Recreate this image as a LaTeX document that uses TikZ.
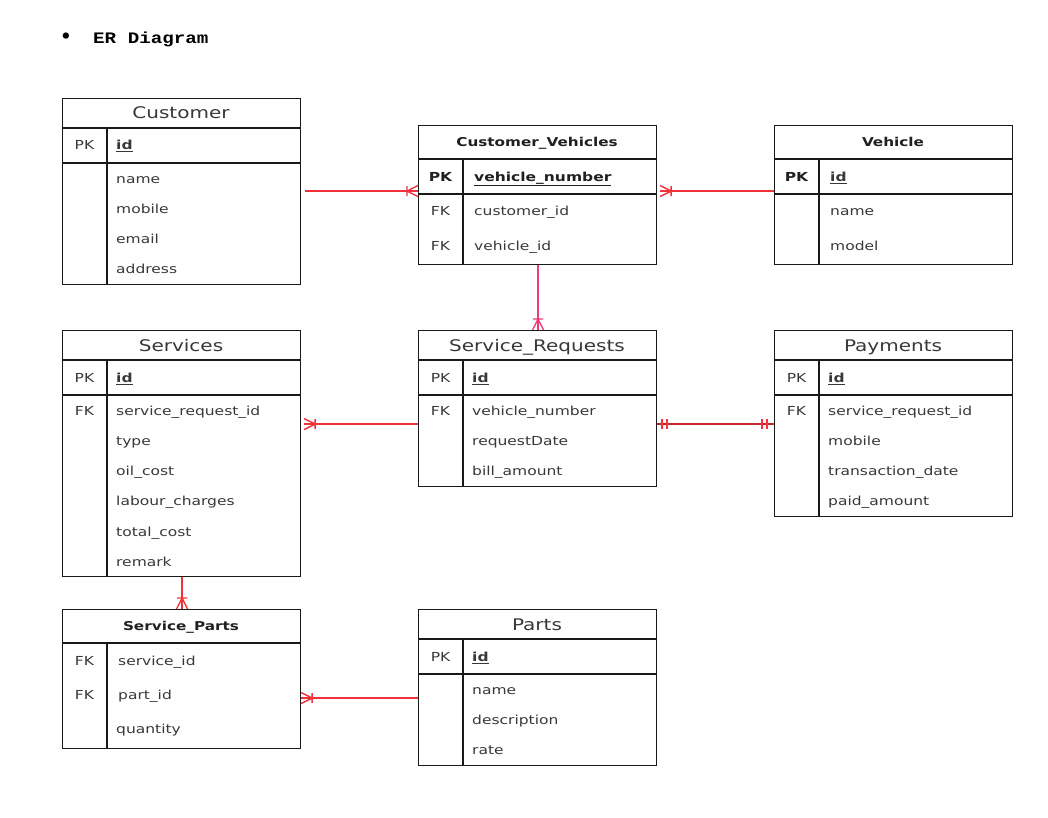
\documentclass[tikz,border=0pt]{standalone}
\usepackage{fontspec}
\newfontfamily\erfont[FakeStretch=1.25]{DejaVu Sans}
\newfontfamily\headfont[FakeStretch=1.2]{Liberation Mono}
\usetikzlibrary{calc}
\definecolor{ink}{HTML}{383838}
\definecolor{hdink}{HTML}{202020}
\definecolor{relred}{HTML}{F2323A}
\definecolor{relpink}{HTML}{F03A78}

\tikzset{
  tbl/.style={draw=black!90, line width=1.1pt, anchor=north west, inner sep=0pt},
  sep/.style={draw=black!90, line width=1.1pt},
  cell/.style={font=\erfont\fontsize{12.4}{14}\selectfont, text=ink, inner sep=0pt,
    anchor=west, text height=10.5pt, text depth=0pt},
  key/.style={cell, anchor=center},
  bcell/.style={cell, font=\erfont\bfseries\fontsize{12.4}{14}\selectfont, text=hdink},
  ttl/.style={font=\erfont\fontsize{16}{18}\selectfont, text=ink, inner sep=0pt,
    text height=13pt, text depth=0pt},
  bttl/.style={font=\erfont\bfseries\fontsize{12.2}{14}\selectfont, text=hdink, inner sep=0pt,
    text height=10pt, text depth=0pt},
  rel/.style={draw=relred, line width=1.4pt},
  many/.pic={\draw[rel] (11pt,0pt) -- (0pt,5.5pt) (11pt,0pt) -- (0pt,-5.5pt)
                        (11pt,5pt) -- (11pt,-5pt);},
  one/.pic={\draw[rel] (5pt,5pt) -- (5pt,-5pt) (10pt,5pt) -- (10pt,-5pt);},
}
\newcommand\pkid{\textbf{\underline{id}}}

\begin{document}
\begin{tikzpicture}[x=1pt,y=-1pt]
\useasboundingbox[fill=white] (0,0) rectangle (1048,817);

% heading
\node[font=\fontsize{28}{28}\selectfont, inner sep=0pt] (bullet) at (66,38.5) {\textbullet};
\node[font=\headfont\bfseries\fontsize{16}{16}\selectfont, anchor=west, inner sep=0pt]
  (heading) at (93,39) {ER Diagram};

% ---------- Customer ----------
\node[tbl, minimum width=238pt, minimum height=186pt] (cust) at (62,98) {};
\draw[sep] (62,128) -- (300,128) (62,163) -- (300,163) (107,128) -- (107,284);
\node[ttl] (cust-t) at (181,112) {Customer};
\node[key] (cust-k) at (84.5,144) {PK};
\node[cell] (cust-id) at (116,144) {\pkid};
\node[cell] (cust-f1) at (116,178) {name};
\node[cell] (cust-f2) at (116,208) {mobile};
\node[cell] (cust-f3) at (116,238) {email};
\node[cell] (cust-f4) at (116,268) {address};

% ---------- Customer_Vehicles ----------
\node[tbl, minimum width=238pt, minimum height=139pt] (cv) at (418,125) {};
\draw[sep] (418,159) -- (656,159) (418,194) -- (656,194) (463,159) -- (463,264);
\node[bttl] (cv-t) at (537,141) {Customer\_Vehicles};
\node[bcell, anchor=center] (cv-k) at (440.5,176) {PK};
\node[bcell] (cv-id) at (474,176) {\underline{vehicle\_number}};
\node[key] (cv-k1) at (440.5,210) {FK};
\node[cell] (cv-f1) at (474,210) {customer\_id};
\node[key] (cv-k2) at (440.5,245) {FK};
\node[cell] (cv-f2) at (474,245) {vehicle\_id};

% ---------- Vehicle ----------
\node[tbl, minimum width=238pt, minimum height=139pt] (veh) at (774,125) {};
\draw[sep] (774,159) -- (1012,159) (774,194) -- (1012,194) (819,159) -- (819,264);
\node[bttl] (veh-t) at (893,141) {Vehicle};
\node[bcell, anchor=center] (veh-k) at (796.5,176) {PK};
\node[cell] (veh-id) at (830,176) {\pkid};
\node[cell] (veh-f1) at (830,210) {name};
\node[cell] (veh-f2) at (830,245) {model};

% ---------- Services ----------
\node[tbl, minimum width=238pt, minimum height=246pt] (sv) at (62,330) {};
\draw[sep] (62,360) -- (300,360) (62,395) -- (300,395) (107,360) -- (107,576);
\node[ttl] (sv-t) at (181,345) {Services};
\node[key] (sv-k) at (84.5,377) {PK};
\node[cell] (sv-id) at (116,377) {\pkid};
\node[key] (sv-k1) at (84.5,410) {FK};
\node[cell] (sv-f1) at (116,410) {service\_request\_id};
\node[cell] (sv-f2) at (116,440) {type};
\node[cell] (sv-f3) at (116,470) {oil\_cost};
\node[cell] (sv-f4) at (116,500) {labour\_charges};
\node[cell] (sv-f5) at (116,531) {total\_cost};
\node[cell] (sv-f6) at (116,561) {remark};

% ---------- Service_Requests ----------
\node[tbl, minimum width=238pt, minimum height=156pt] (sr) at (418,330) {};
\draw[sep] (418,360) -- (656,360) (418,395) -- (656,395) (463,360) -- (463,486);
\node[ttl] (sr-t) at (537,345) {Service\_Requests};
\node[key] (sr-k) at (440.5,377) {PK};
\node[cell] (sr-id) at (472,377) {\pkid};
\node[key] (sr-k1) at (440.5,410) {FK};
\node[cell] (sr-f1) at (472,410) {vehicle\_number};
\node[cell] (sr-f2) at (472,440) {requestDate};
\node[cell] (sr-f3) at (472,470) {bill\_amount};

% ---------- Payments ----------
\node[tbl, minimum width=238pt, minimum height=186pt] (pay) at (774,330) {};
\draw[sep] (774,360) -- (1012,360) (774,395) -- (1012,395) (819,360) -- (819,516);
\node[ttl] (pay-t) at (893,345) {Payments};
\node[key] (pay-k) at (796.5,377) {PK};
\node[cell] (pay-id) at (828,377) {\pkid};
\node[key] (pay-k1) at (796.5,410) {FK};
\node[cell] (pay-f1) at (828,410) {service\_request\_id};
\node[cell] (pay-f2) at (828,440) {mobile};
\node[cell] (pay-f3) at (828,470) {transaction\_date};
\node[cell] (pay-f4) at (828,500) {paid\_amount};

% ---------- Service_Parts ----------
\node[tbl, minimum width=238pt, minimum height=139pt] (sp) at (62,609) {};
\draw[sep] (62,643) -- (300,643) (107,643) -- (107,748);
\node[bttl] (sp-t) at (181,625) {Service\_Parts};
\node[key] (sp-k1) at (84.5,660) {FK};
\node[cell] (sp-f1) at (118,660) {service\_id};
\node[key] (sp-k2) at (84.5,694) {FK};
\node[cell] (sp-f2) at (118,694) {part\_id};
\node[cell] (sp-f3) at (116,728) {quantity};

% ---------- Parts ----------
\node[tbl, minimum width=238pt, minimum height=156pt] (parts) at (418,609) {};
\draw[sep] (418,639) -- (656,639) (418,674) -- (656,674) (463,639) -- (463,765);
\node[ttl] (parts-t) at (537,624) {Parts};
\node[key] (parts-k) at (440.5,656) {PK};
\node[cell] (parts-id) at (472,656) {\pkid};
\node[cell] (parts-f1) at (472,689) {name};
\node[cell] (parts-f2) at (472,719) {description};
\node[cell] (parts-f3) at (472,749) {rate};

% ---------- relationships ----------
% Customer -> Customer_Vehicles
\coordinate (crow) at ([yshift=0.5pt]cust.east);
\draw[rel] ([xshift=4pt]crow) -- (cv.west |- crow);
\path (cv.west |- crow) pic[rotate=180] {many};
% Vehicle -> Customer_Vehicles
\coordinate (cvr) at ([xshift=3pt]cv.east |- crow);
\draw[rel] (veh.west |- crow) -- (cvr);
\path (cvr) pic {many};
% Customer_Vehicles -> Service_Requests
\coordinate (cvs) at ([xshift=0.5pt]cv.south);
\draw[rel, draw=relpink] (cvs) -- (cvs |- sr.north);
\path (cvs |- sr.north) pic[rotate=90, rel/.append style={draw=relpink}] {many};
% Service_Requests -> Services
\coordinate (srrow) at ([yshift=-15.5pt]sr.west);
\coordinate (svr) at ([xshift=3pt]sv.east |- srrow);
\draw[rel] (srrow) -- (svr);
\path (svr) pic {many};
% Service_Requests -> Payments
\draw[rel, draw=relred!80!black] (sr.east |- srrow) -- (pay.west |- srrow);
\path (sr.east |- srrow) pic {one};
\path ([xshift=-2pt]pay.west |- srrow) pic[rotate=180] {one};
% Services -> Service_Parts
\coordinate (svs) at ([xshift=0.5pt]sv.south);
\draw[rel] (svs) -- (svs |- sp.north);
\path (svs |- sp.north) pic[rotate=90] {many};
% Parts -> Service_Parts
\coordinate (prow) at ([yshift=-10.5pt]parts.west);
\draw[rel] (prow) -- (sp.east |- prow);
\path (sp.east |- prow) pic {many};
\end{tikzpicture}
\end{document}
